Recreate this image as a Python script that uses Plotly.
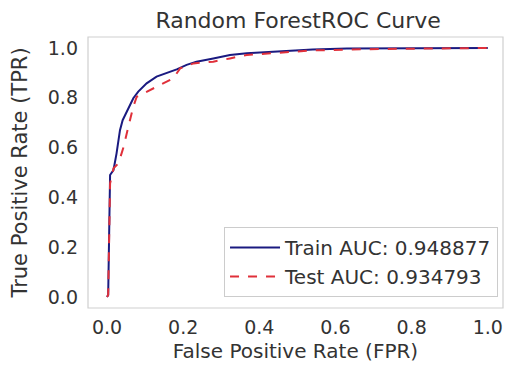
import plotly.graph_objects as go

train_fpr = [0.0, 0.003, 0.008, 0.017, 0.025, 0.034, 0.041, 0.056, 0.069, 0.082, 0.104, 0.13, 0.157,
             0.183, 0.209, 0.235, 0.279, 0.323, 0.367, 0.454, 0.54, 0.63, 0.8, 1.0]
train_tpr = [0.0, 0.008, 0.49, 0.51, 0.577, 0.67, 0.71, 0.758, 0.798, 0.825, 0.858, 0.885, 0.90,
             0.914, 0.932, 0.945, 0.958, 0.972, 0.979, 0.988, 0.994, 0.998, 0.999, 1.0]

test_fpr = [0.0, 0.003, 0.008, 0.017, 0.03, 0.043, 0.056, 0.069, 0.078, 0.104, 0.139, 0.174, 0.192,
            0.227, 0.279, 0.323, 0.367, 0.454, 0.54, 0.673, 0.8, 1.0]
test_tpr = [0.0, 0.008, 0.456, 0.517, 0.537, 0.60, 0.684, 0.764, 0.804, 0.825, 0.851, 0.878, 0.918,
            0.938, 0.945, 0.958, 0.972, 0.981, 0.99, 0.995, 0.998, 1.0]

train_auc = 0.948877
test_auc = 0.934793

x_ticks = [0.0, 0.2, 0.4, 0.6, 0.8, 1.0]
y_ticks = [0.0, 0.2, 0.4, 0.6, 0.8, 1.0]

FONT = "DejaVu Sans"
TXT = "#333333"

fig = go.Figure()
fig.add_trace(go.Scatter(x=train_fpr, y=train_tpr, mode="lines",
                         line=dict(color="#1a1a80", width=2),
                         name=f"Train AUC: {train_auc}"))
fig.add_trace(go.Scatter(x=test_fpr, y=test_tpr, mode="lines",
                         line=dict(color="#e0303a", width=2, dash="dash"),
                         name=f"Test AUC: {test_auc}"))

axis_common = dict(showline=False, showgrid=False, zeroline=False, ticks="", automargin=False,
                   tickfont=dict(family=FONT, size=19, color=TXT))

fig.update_layout(
    width=507, height=369,
    margin=dict(l=88, r=4, t=37, b=61),
    paper_bgcolor="white", plot_bgcolor="white",
    font=dict(family=FONT, color=TXT),
    title=dict(text="Random ForestROC Curve", x=0.588, xanchor="center",
               y=0.965, yanchor="top", font=dict(family=FONT, size=22, color=TXT)),
    xaxis=dict(range=[-0.05, 1.04], tickvals=x_ticks, ticktext=[f"{v:.1f}" for v in x_ticks],
               ticklabelstandoff=6,
               title=dict(text="False Positive Rate (FPR)", font=dict(family=FONT, size=20, color=TXT), standoff=6),
               **axis_common),
    yaxis=dict(range=[-0.044, 1.044], tickvals=y_ticks, ticktext=[f"{v:.1f}" for v in y_ticks],
               ticklabelstandoff=9,
               title=dict(text="True Positive Rate (TPR)", font=dict(family=FONT, size=21, color=TXT), standoff=14),
               **axis_common),
    legend=dict(x=0.988, y=0.041, xanchor="right", yanchor="bottom",
                bgcolor="rgba(255,255,255,0.85)", bordercolor="#cccccc", borderwidth=1,
                itemwidth=50,
                font=dict(family=FONT, size=20, color=TXT)),
    showlegend=True,
    shapes=[dict(type="rect", xref="paper", yref="paper", x0=0, x1=1, y0=0, y1=1,
                 line=dict(color="#cfcfcf", width=1.2), layer="below")],
)

fig.write_html("out.html", config={"displayModeBar": False},
               post_script="document.body.style.margin='0';document.body.style.overflow='hidden';")
